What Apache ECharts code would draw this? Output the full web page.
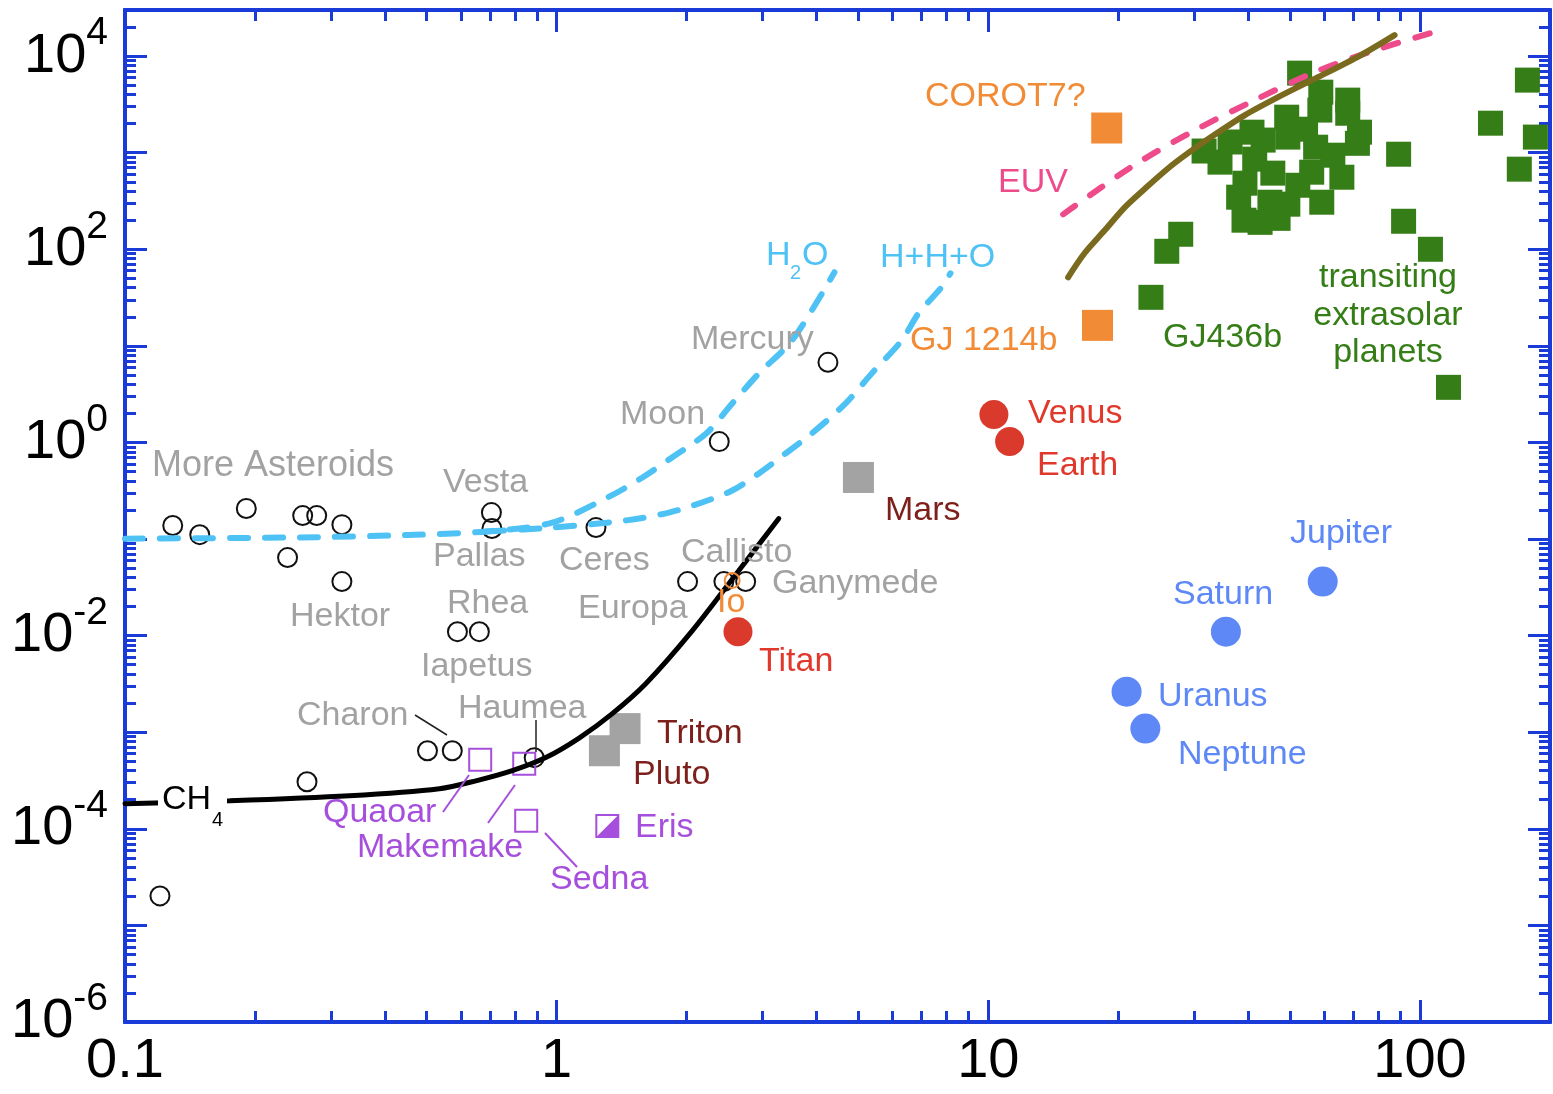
<!DOCTYPE html>
<html>
<head>
<meta charset="utf-8">
<title>Escape parameter vs. size</title>
<script src="https://cdn.jsdelivr.net/npm/echarts@6/dist/echarts.min.js"></script>
<style>
  html, body { margin: 0; padding: 0; background: #fff; }
  #chart { width: 1553px; height: 1094px; }
</style>
</head>
<body>
<div id="chart"></div>
<script>
// axis ranges and tick labels (raw values, plotted on log10 scale)
const xRange = [0.1, 200];
const yRange = [1e-6, 3e4];
const xTicks = [0.1, 1, 10, 100];
const xTickLabels = ['0.1', '1', '10', '100'];
const yTicks = [1e-6, 1e-5, 1e-4, 1e-3, 1e-2, 1e-1, 1, 10, 100, 1e3, 1e4];
const yLabelTicks = [1e-6, 1e-4, 1e-2, 1, 1e2, 1e4];

// open black circles: asteroids, moons, Mercury, KBOs
const smallBodies = [
  [0.129, 0.138], [0.149, 0.111], [0.191, 0.207], [0.238, 0.0643], [0.258, 0.175],
  [0.278, 0.175], [0.318, 0.141], [0.318, 0.0363],
  [0.706, 0.188], [0.708, 0.1285], [1.233, 0.1315], [0.589, 0.011], [0.662, 0.011],
  [0.1205, 2.02e-5], [0.264, 3.07e-4], [0.502, 6.43e-4], [0.573, 6.43e-4], [0.887, 5.45e-4],
  [2.38, 1.02], [4.25, 6.75], [2.01, 0.0363], [2.44, 0.0363], [2.74, 0.0363]
];
const io = [[2.55, 0.0372]];
const redBodies = [[10.3, 1.95], [11.2, 1.02], [2.63, 0.011]];          // Venus, Earth, Titan
const grayBodies = [[5.0, 0.434], [1.44, 1.09e-3], [1.29, 6.43e-4]];      // Mars, Triton, Pluto
const dwarfOpen = [[0.665, 5.19e-4], [0.841, 4.72e-4], [0.850, 1.21e-4]]; // Quaoar, Makemake, Sedna
const eris = [[1.31, 1.07e-4]];
const giants = [[59.5, 0.0363], [35.5, 0.011], [20.9, 2.63e-3], [23.1, 1.09e-3]];
const superEarths = [[18.8, 1800], [17.9, 16.3]];                         // COROT7, GJ 1214b
const exoplanets = [
  [52.6, 6660], [58.9, 4230], [58.6, 2760], [68.0, 3500], [68.0, 2560], [71.6, 1250], [72.4, 1630],
  [31.6, 1040], [34.4, 798], [36.3, 1290], [40.8, 1630], [49.1, 2330], [54.3, 1750], [41.4, 857],
  [38.0, 346], [39.1, 200], [42.6, 190], [44.9, 307], [49.4, 293], [59.2, 307], [65.9, 557],
  [56.1, 628], [45.6, 614], [39.3, 483], [57.3, 1140], [49.4, 1450], [62.8, 942], [52.1, 460],
  [43.3, 1350], [46.9, 209],
  [23.8, 31.8], [25.9, 95.3], [27.9, 143], [89.2, 964], [91.6, 195], [105.7, 100], [116.4, 3.72],
  [145.6, 2020], [177.3, 5640], [185, 1450], [169.8, 675]
];

// curves
const ch4Curve = [[0.1, 1.82e-4], [0.175, 1.95e-4], [0.331, 2.2e-4], [0.535, 2.6e-4], [0.65, 3.14e-4],
  [0.789, 4.0e-4], [0.946, 5.5e-4], [1.127, 8.7e-4], [1.343, 1.55e-3], [1.61, 3.2e-3], [2.06, 1.12e-2],
  [2.64, 4.7e-2], [3.27, 0.163]];
const h2oCurve = [[0.1, 0.101], [0.254, 0.104], [0.45, 0.11], [0.687, 0.12], [0.977, 0.148], [1.34, 0.283],
  [1.58, 0.434], [1.85, 0.70], [2.22, 1.24], [2.55, 2.53], [2.94, 5.19], [3.51, 11.4], [4.40, 57.8]];
const hhoCurve = [[0.687, 0.12], [0.977, 0.1315], [1.45, 0.156], [1.82, 0.188], [2.17, 0.239], [2.55, 0.318],
  [2.94, 0.478], [3.39, 0.769], [3.90, 1.24], [4.67, 2.54], [5.37, 5.19], [6.30, 11.4], [6.89, 21.7],
  [7.79, 40.4], [8.17, 56.4]];
const euvCurve = [[14.9, 230], [21.4, 708], [29.5, 1630], [41.4, 3500], [57.0, 6820], [78.5, 11500], [109.6, 18100]];
const energyCurve = [[15.3, 51.3], [16.7, 91.0], [18.6, 157], [20.7, 272], [23.1, 428], [26.1, 690], [29.0, 988],
  [32.8, 1450], [39.3, 2450], [46.9, 3760], [58.0, 6050], [72.8, 10200], [87.3, 16500]];

const BLUE_AXIS = '#1a3bd8';
const GRAY = '#a2a2a2';
const RED = '#e0392b';
const DARKRED = '#7d1f1a';
const PURPLE = '#a64fdc';
const PLANET_BLUE = '#5d88f6';
const GREEN = '#357d16';
const ORANGE = '#f28b36';
const PINK = '#ee4b8a';
const LIGHTBLUE = '#4fc2f5';
const OLIVE = '#7a6a1e';
const FONT = '"Liberation Sans", Arial, sans-serif';

const L = Math.log10;
const lg = pts => pts.map(p => [L(p[0]), L(p[1])]);

function minorTicks(range) {
  const out = [];
  for (let e = Math.floor(L(range[0])); e <= Math.ceil(L(range[1])); e++) {
    for (let k = 2; k <= 9; k++) {
      const v = k * Math.pow(10, e);
      if (v > range[0] && v < range[1]) out.push(L(v));
    }
  }
  return out;
}

function axis(pos, range, ticks, len, extra) {
  return Object.assign({
    type: 'value', position: pos, min: L(range[0]), max: L(range[1]),
    axisLine: { show: true, onZero: false, lineStyle: { color: BLUE_AXIS, width: 4 } },
    axisTick: { show: true, inside: true, length: len, customValues: ticks, lineStyle: { color: BLUE_AXIS, width: 3 } },
    axisLabel: { show: false },
    splitLine: { show: false }
  }, extra || {});
}

const xMajor = xTicks.map(L);
const yMajor = yTicks.map(L);
const xMinor = minorTicks(xRange);
const yMinor = minorTicks(yRange);

function scatter(data, symbol, size, style, z) {
  return {
    type: 'scatter', data: lg(data), symbol, symbolSize: size, z: z || 2, silent: true,
    itemStyle: Object.assign({ opacity: 1 }, style)
  };
}
function curve(data, color, width, dash) {
  return {
    type: 'line', data: lg(data), showSymbol: false, symbol: 'none', smooth: 0.3,
    z: 3, silent: true,
    lineStyle: { color, width, type: dash || 'solid', cap: 'round', opacity: 1 }
  };
}

function txt(text, x, y, fill, size, align) {
  const a = align || 'left';
  return {
    type: 'text', x, y, z: 100, silent: true,
    style: { text, fill, font: (size || 34) + 'px ' + FONT, textAlign: a, align: a,
      textVerticalAlign: 'middle', verticalAlign: 'middle' }
  };
}
function seg(x1, y1, x2, y2, stroke, w) {
  return { type: 'line', z: 100, silent: true, shape: { x1, y1, x2, y2 }, style: { stroke, lineWidth: w || 1.5 } };
}

const labels = [
  txt('More Asteroids', 152, 466, GRAY, 36), txt('Vesta', 443, 483, GRAY), txt('Pallas', 433, 557, GRAY),
  txt('Ceres', 559, 561, GRAY), txt('Hektor', 290, 617, GRAY), txt('Rhea', 447, 604, GRAY),
  txt('Iapetus', 421, 667, GRAY), txt('Europa', 578, 609, GRAY), txt('Callisto', 681, 553, GRAY),
  txt('Ganymede', 772, 584, GRAY), txt('Moon', 620, 415, GRAY), txt('Mercury', 691, 340, GRAY),
  txt('Charon', 297, 716, GRAY), txt('Haumea', 458, 709, GRAY),
  txt('Io', 717, 603, ORANGE),
  txt('Titan', 759, 662, RED), txt('Venus', 1028, 414, RED), txt('Earth', 1037, 466, RED),
  txt('Mars', 885, 511, DARKRED), txt('Triton', 657, 734, DARKRED), txt('Pluto', 633, 775, DARKRED),
  txt('Quaoar', 323, 813, PURPLE), txt('Makemake', 357, 848, PURPLE), txt('Sedna', 550, 880, PURPLE),
  txt('Eris', 635, 828, PURPLE),
  txt('Jupiter', 1290, 534, PLANET_BLUE), txt('Saturn', 1173, 595, PLANET_BLUE),
  txt('Uranus', 1158, 697, PLANET_BLUE), txt('Neptune', 1178, 755, PLANET_BLUE),
  txt('GJ 1214b', 910, 341, ORANGE), txt('COROT7?', 925, 97, ORANGE),
  txt('EUV', 998, 183, PINK),
  txt('H+H+O', 880, 258, LIGHTBLUE),
  txt('H', 766, 256, LIGHTBLUE), txt('2', 790, 273, LIGHTBLUE, 20), txt('O', 802, 256, LIGHTBLUE),
  txt('GJ436b', 1163, 338, GREEN),
  txt('transiting', 1388, 278, GREEN, 34, 'center'),
  txt('extrasolar', 1388, 316, GREEN, 34, 'center'),
  txt('planets', 1388, 353, GREEN, 34, 'center'),
  { type: 'rect', z: 99, silent: true, shape: { x: 158, y: 788, width: 69, height: 26 }, style: { fill: '#fff' } },
  txt('CH', 162, 800, '#000'), txt('4', 212, 820, '#000', 20),
  seg(415, 715, 447, 735, '#222'), seg(536, 720, 536, 752, '#222'),
  seg(443, 812, 469, 775, PURPLE, 2), seg(488, 823, 515, 785, PURPLE, 2), seg(545, 833, 577, 867, PURPLE, 2)
];

const chart = echarts.init(document.getElementById('chart'));

const option = {
  animation: false,
  backgroundColor: '#fff',
  grid: { left: 125, right: 3, top: 10, bottom: 72, containLabel: false, outerBoundsMode: 'none' },
  xAxis: [
    axis('bottom', xRange, xMajor, 22, {
      axisLabel: {
        show: true, customValues: xMajor, margin: 12, color: '#000', fontSize: 56, fontFamily: FONT,
        formatter: v => xTickLabels[xMajor.findIndex(t => Math.abs(t - v) < 1e-6)]
      }
    }),
    axis('bottom', xRange, xMinor, 11),
    axis('top', xRange, xMajor, 22),
    axis('top', xRange, xMinor, 11)
  ],
  yAxis: [
    axis('left', yRange, yMajor, 22, {
      axisLabel: {
        show: true, customValues: yLabelTicks.map(L), margin: 17, color: '#000',
        formatter: v => '{b|10}{s|' + Math.round(v) + '}',
        rich: {
          b: { fontSize: 56, lineHeight: 84, fontFamily: FONT, color: '#000' },
          s: { fontSize: 39, lineHeight: 40, verticalAlign: 'top', fontFamily: FONT, color: '#000' }
        }
      }
    }),
    axis('left', yRange, yMinor, 11),
    axis('right', yRange, yMajor, 22),
    axis('right', yRange, yMinor, 11)
  ],
  series: [
    scatter(smallBodies, 'circle', 19, { color: 'rgba(0,0,0,0)', borderColor: '#111', borderWidth: 2 }),
    scatter(redBodies, 'circle', 29, { color: '#da3a2c' }),
    scatter(grayBodies, 'rect', 31, { color: '#a3a3a3' }),
    scatter(dwarfOpen, 'rect', 22, { color: 'rgba(0,0,0,0)', borderColor: PURPLE, borderWidth: 2 }),
    scatter(eris, 'path://M10,0 L10,10 L0,10 Z', 22, { color: PURPLE }),
    scatter(eris, 'rect', 22, { color: 'rgba(0,0,0,0)', borderColor: PURPLE, borderWidth: 2 }),
    scatter(giants, 'circle', 30, { color: PLANET_BLUE }),
    scatter(superEarths, 'rect', 31, { color: ORANGE }),
    scatter(exoplanets, 'rect', 25, { color: GREEN }),
    curve(h2oCurve, LIGHTBLUE, 6, [18, 17]),
    curve(hhoCurve, LIGHTBLUE, 6, [18, 17]),
    curve(euvCurve, PINK, 6, [15, 18]),
    curve(energyCurve, OLIVE, 6),
    curve(ch4Curve, '#000', 5),
    scatter(io, 'circle', 15, { color: 'rgba(0,0,0,0)', borderColor: ORANGE, borderWidth: 2 }, 4)
  ],
  graphic: { elements: labels }
};

chart.setOption(option);
window.addEventListener('resize', () => chart.resize());
</script>
</body>
</html>
